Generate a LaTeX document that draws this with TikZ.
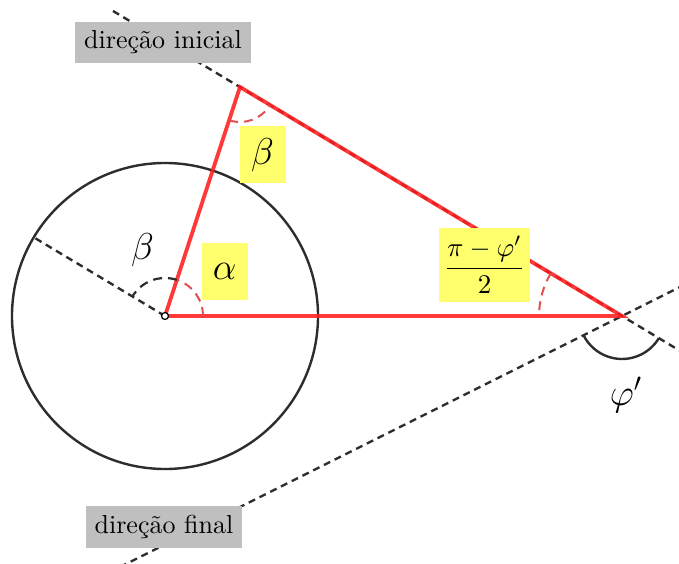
\documentclass[tikz,border=0pt]{standalone}
\usepackage{amsmath}
\usepackage{graphicx}
\usetikzlibrary{calc}
\definecolor{dredline}{RGB}{255,30,30}
\definecolor{darcred}{RGB}{225,80,80}
\definecolor{dgraybox}{RGB}{191,191,191}
\definecolor{dyel}{RGB}{255,255,110}
\definecolor{dink}{RGB}{45,45,45}
\newcommand{\bigtxt}[1]{\scalebox{2.6}{#1}}
\newcommand{\bigmath}[1]{\scalebox{2.6}{\Large #1}}
\begin{document}
\begin{tikzpicture}[x=1pt,y=1pt,
  redside/.style={draw=dredline, opacity=0.88, line width=3.8pt},
  dashline/.style={draw=dink, dash pattern=on 7pt off 5pt, line width=2.4pt},
  redarc/.style={draw=darcred, dash pattern=on 9pt off 6pt, line width=2pt},
  blackarc/.style={draw=dink, dash pattern=on 9pt off 6pt, line width=2.2pt},
  graylabel/.style={fill=dgraybox, inner sep=9pt},
  yelbox/.style={fill=dyel, inner sep=0pt, minimum width=46pt, minimum height=57pt},
  mathlabel/.style={inner sep=0pt}]
\useasboundingbox (0,0) rectangle (679,563);
% key points
\coordinate (O) at (165,247);
\coordinate (A) at (240,476);
\coordinate (B) at (622,247);
\coordinate (I1) at (113,552);
\coordinate (I2) at (700,200.2);
\coordinate (F1) at (120,-4);
\coordinate (F2) at (700,286);
\coordinate (D) at ($(O)+(149.06:152)$);
% circle
\draw[draw=dink, line width=2.4pt] (O) circle[radius=153];
% direction lines
\draw[dashline] (I1) -- (I2);
\draw[dashline] (F1) -- (F2);
\draw[dashline] (O) -- (D);
% triangle
\draw[redside] (O) -- (A) -- (B) -- cycle;
% angle arcs
\draw[redarc] ($(O)+(0:38)$) arc[start angle=0, end angle=71.87, radius=38];
\draw[blackarc] ($(O)+(71.87:38)$) arc[start angle=71.87, end angle=149.06, radius=38];
\draw[redarc] ($(A)+(-108.13:35)$) arc[start angle=-108.13, end angle=-30.94, radius=35];
\draw[redarc] ($(B)+(149.06:83)$) arc[start angle=149.06, end angle=180, radius=83];
\draw[draw=dink, line width=2.4pt] ($(B)+(-153.43:43)$) arc[start angle=-153.43, end angle=-30.94, radius=43];
% center point
\node[circle, draw=black, fill=white, line width=1.2pt, inner sep=0pt, minimum size=7pt] (Odot) at (O) {};
% labels
\node[graylabel] (li) at (163,520.5) {\bigtxt{direção inicial}};
\node[graylabel] (lf) at (164,36) {\bigtxt{direção final}};
\node[yelbox] (lb) at (262.5,408) {\bigmath{$\beta$}};
\node[yelbox] (la) at (224.7,291.5) {\bigmath{$\alpha$}};
\node[fill=dyel, inner sep=0pt, minimum width=91pt, minimum height=74pt] (lp) at (484.5,298) {\scalebox{2.7}{$\dfrac{\pi-\varphi'}{2}$}};
\node[mathlabel] (lb2) at (142.5,313) {\bigmath{$\beta$}};
\node[mathlabel] (lphi) at (626,168) {\bigmath{$\varphi'$}};
\end{tikzpicture}
\end{document}
